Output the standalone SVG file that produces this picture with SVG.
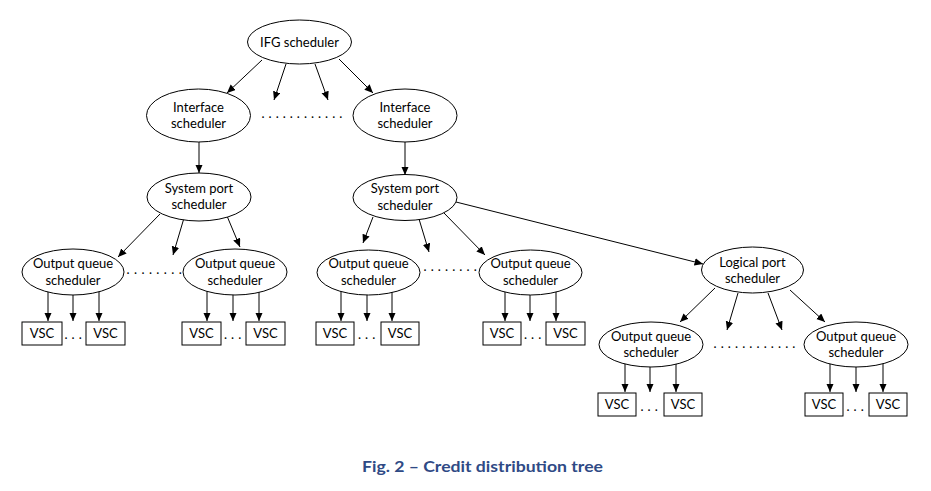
<svg xmlns="http://www.w3.org/2000/svg" width="931" height="491" viewBox="0 0 931 491">
<defs>
<marker id="ah" markerUnits="userSpaceOnUse" markerWidth="9" markerHeight="8" refX="8.5" refY="3.75" orient="auto">
<path d="M0,0 L8.5,3.75 L0,7.5 z" fill="#000"/>
</marker>
<style>
.c line{stroke:#000;stroke-width:1;marker-end:url(#ah)}
ellipse{fill:#fff;stroke:#000;stroke-width:1}
rect{fill:#fff;stroke:#000;stroke-width:1}
text{font-family:Lato,"Liberation Sans",sans-serif;font-size:13px;fill:#000;text-anchor:middle}
.d{text-anchor:start;letter-spacing:4px}
.cap{font-weight:bold;font-size:15px;fill:#2F4A85;text-anchor:start}
</style>
</defs>
<rect x="0" y="0" width="931" height="491" style="fill:#fff;stroke:none"/>
<g id="connectors" class="c">
<line x1="262" y1="60" x2="227" y2="93"/>
<line x1="286" y1="64" x2="274" y2="100"/>
<line x1="315" y1="64" x2="328" y2="100"/>
<line x1="339" y1="59" x2="373" y2="93"/>
<line x1="199" y1="140" x2="199" y2="173"/>
<line x1="405" y1="140" x2="405" y2="175"/>
<line x1="160" y1="214" x2="118" y2="257"/>
<line x1="184" y1="218" x2="173" y2="255"/>
<line x1="227" y1="216" x2="240" y2="247"/>
<line x1="373" y1="217" x2="363" y2="243"/>
<line x1="419" y1="219" x2="429" y2="252"/>
<line x1="444" y1="213" x2="485" y2="255"/>
<line x1="456" y1="202" x2="703" y2="264"/>
<line x1="715" y1="288" x2="680" y2="322"/>
<line x1="738" y1="293" x2="727" y2="330"/>
<line x1="768" y1="293" x2="782" y2="330"/>
<line x1="790" y1="290" x2="825" y2="322"/>
<line x1="48" y1="285" x2="48" y2="321"/>
<line x1="73" y1="285" x2="73" y2="321"/>
<line x1="99" y1="285" x2="99" y2="321"/>
<line x1="207" y1="285" x2="207" y2="321"/>
<line x1="233" y1="285" x2="233" y2="321"/>
<line x1="259" y1="285" x2="259" y2="321"/>
<line x1="341" y1="285" x2="341" y2="321"/>
<line x1="367" y1="285" x2="367" y2="321"/>
<line x1="392" y1="285" x2="392" y2="321"/>
<line x1="505" y1="285" x2="505" y2="321"/>
<line x1="530" y1="285" x2="530" y2="321"/>
<line x1="556" y1="285" x2="556" y2="321"/>
<line x1="625" y1="356" x2="625" y2="392"/>
<line x1="650" y1="356" x2="650" y2="392"/>
<line x1="676" y1="356" x2="676" y2="392"/>
<line x1="830" y1="356" x2="830" y2="392"/>
<line x1="856" y1="356" x2="856" y2="392"/>
<line x1="883" y1="356" x2="883" y2="392"/>
</g>
<g id="ifg"><ellipse cx="299.5" cy="42" rx="52" ry="22"/><text x="299.5" y="46.5">IFG scheduler</text></g>
<g id="if1"><ellipse cx="198.5" cy="115.5" rx="52" ry="26.5"/><text x="198.5" y="112">Interface</text><text x="198.5" y="128">scheduler</text></g>
<g id="if2"><ellipse cx="405" cy="115.5" rx="52" ry="26.5"/><text x="405" y="112">Interface</text><text x="405" y="128">scheduler</text></g>
<g id="sp1"><ellipse cx="199" cy="197" rx="52" ry="24"/><text x="199" y="193">System port</text><text x="199" y="209">scheduler</text></g>
<g id="sp2"><ellipse cx="405" cy="197.5" rx="52" ry="23"/><text x="405" y="193">System port</text><text x="405" y="209.5">scheduler</text></g>
<g id="oq1"><ellipse cx="73" cy="272" rx="51" ry="23"/><text x="73" y="268">Output queue</text><text x="73" y="284.5">scheduler</text></g>
<g id="oq2"><ellipse cx="235" cy="272" rx="52" ry="23"/><text x="235" y="268">Output queue</text><text x="235" y="284.5">scheduler</text></g>
<g id="oq3"><ellipse cx="368.5" cy="272.5" rx="51.5" ry="22.5"/><text x="368.5" y="268">Output queue</text><text x="368.5" y="284.5">scheduler</text></g>
<g id="oq4"><ellipse cx="530.5" cy="272.5" rx="51.5" ry="22.5"/><text x="530.5" y="268">Output queue</text><text x="530.5" y="284.5">scheduler</text></g>
<g id="lp"><ellipse cx="752.5" cy="270" rx="51" ry="23"/><text x="752.5" y="266.5">Logical port</text><text x="752.5" y="283">scheduler</text></g>
<g id="oq5"><ellipse cx="651" cy="344.5" rx="52" ry="22.5"/><text x="651" y="340.5">Output queue</text><text x="651" y="357">scheduler</text></g>
<g id="oq6"><ellipse cx="856" cy="344.5" rx="52" ry="22.5"/><text x="856" y="340.5">Output queue</text><text x="856" y="357">scheduler</text></g>
<g id="vsc1"><rect x="22" y="322" width="40" height="23"/><text x="42" y="338">VSC</text></g>
<g id="vsc2"><rect x="86" y="322" width="39" height="23"/><text x="105.5" y="338">VSC</text></g>
<g id="vsc3"><rect x="182" y="322" width="39" height="23"/><text x="201.5" y="338">VSC</text></g>
<g id="vsc4"><rect x="246" y="322" width="39" height="23"/><text x="265.5" y="338">VSC</text></g>
<g id="vsc5"><rect x="316" y="322" width="38" height="23"/><text x="335" y="338">VSC</text></g>
<g id="vsc6"><rect x="381" y="322" width="38" height="23"/><text x="400" y="338">VSC</text></g>
<g id="vsc7"><rect x="483" y="322" width="38" height="23"/><text x="502" y="338">VSC</text></g>
<g id="vsc8"><rect x="546" y="322" width="39" height="23"/><text x="565.5" y="338">VSC</text></g>
<g id="vsc9"><rect x="598" y="393" width="38" height="23"/><text x="617" y="409">VSC</text></g>
<g id="vsc10"><rect x="664" y="393" width="38" height="23"/><text x="683" y="409">VSC</text></g>
<g id="vsc11"><rect x="805" y="393" width="38" height="23"/><text x="824" y="409">VSC</text></g>
<g id="vsc12"><rect x="869" y="393" width="38" height="23"/><text x="888" y="409">VSC</text></g>
<g id="dots">
<text class="d" x="261.5" y="117.5">............</text>
<text class="d" x="126.5" y="273.5" style="letter-spacing:4.4px">........</text>
<text class="d" x="423.5" y="270.5" style="letter-spacing:4.1px">........</text>
<text class="d" x="713.5" y="347.5" style="letter-spacing:4.1px">............</text>
<text class="d" x="64.5" y="339">...</text>
<text class="d" x="224" y="339">...</text>
<text class="d" x="358" y="339">...</text>
<text class="d" x="524" y="339">...</text>
<text class="d" x="640.5" y="411">...</text>
<text class="d" x="846.5" y="411">...</text>
</g>
<text class="cap" x="362" y="472" textLength="241" lengthAdjust="spacingAndGlyphs">Fig. 2 – Credit distribution tree</text>
</svg>
